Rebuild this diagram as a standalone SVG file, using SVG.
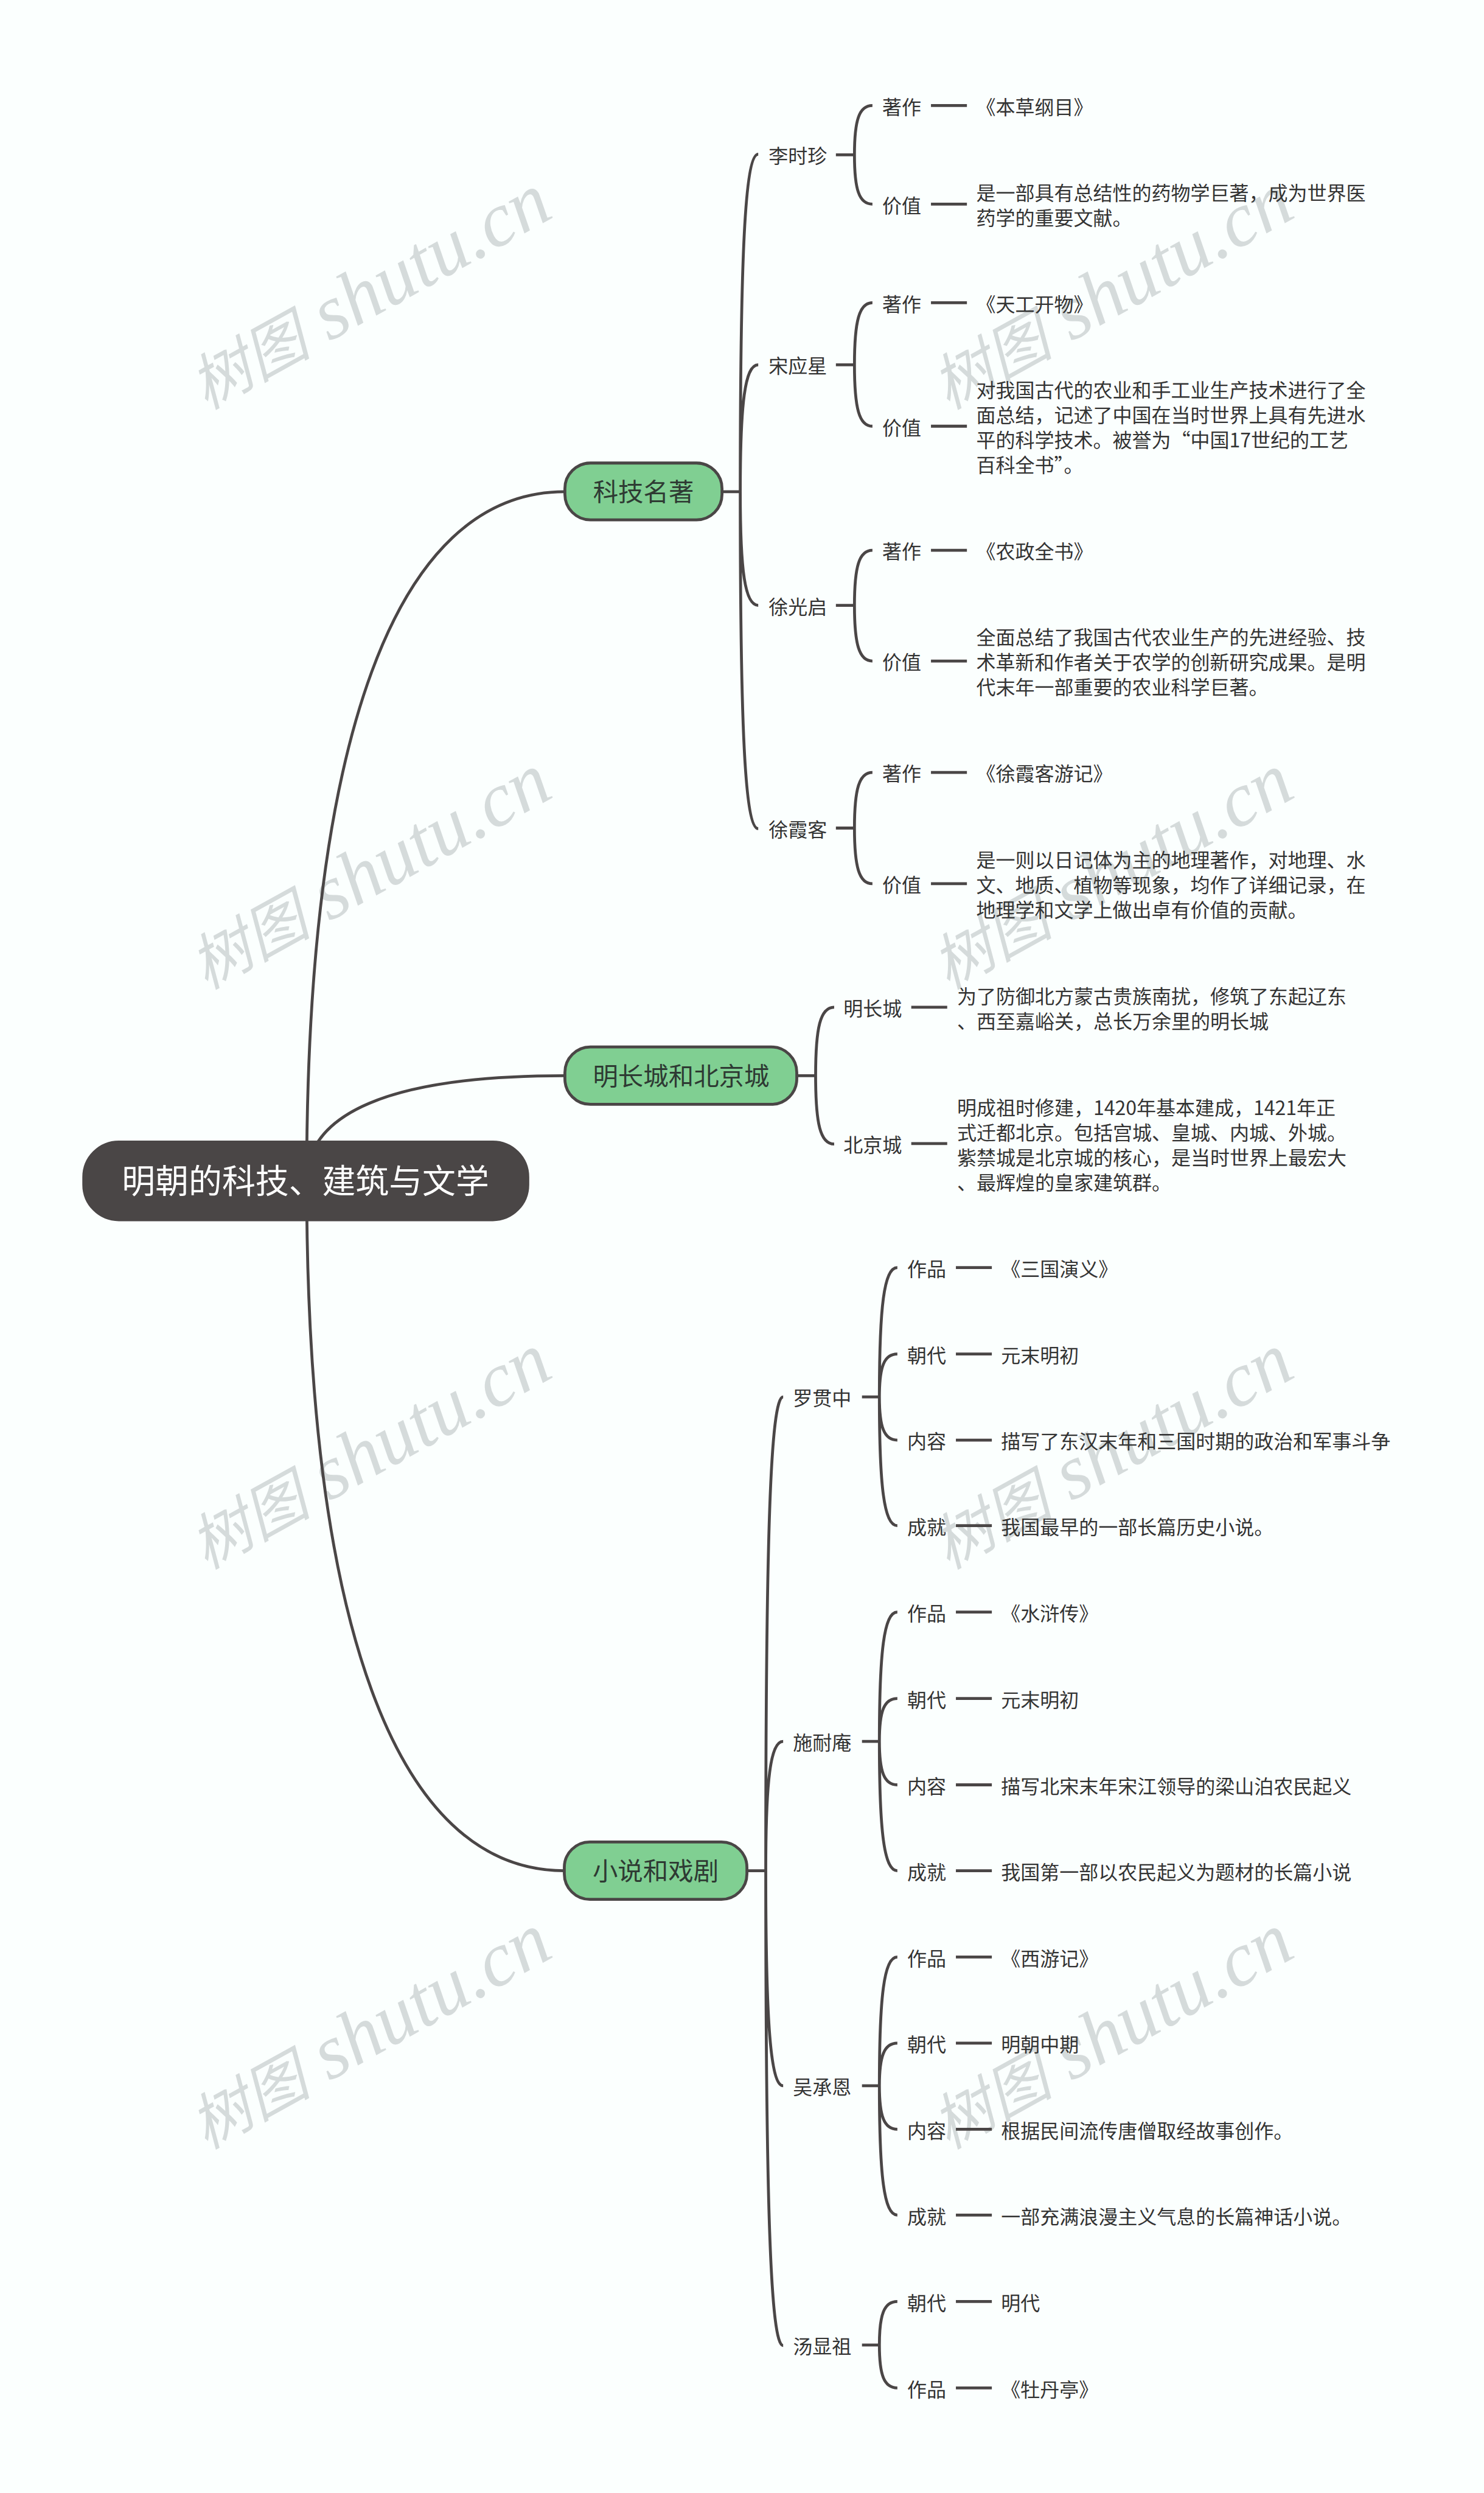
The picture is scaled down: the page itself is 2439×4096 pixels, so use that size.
<svg xmlns="http://www.w3.org/2000/svg" width="2439" height="4096" viewBox="0 0 2439 4096">
<style>
text{font-family:"Noto Sans CJK SC","Noto Sans",sans-serif;fill:#333}
.t{font-size:33.6px}
.l1{font-size:43.5px;text-anchor:middle;fill:#2e3a33}
.r{font-size:57.6px;text-anchor:middle;fill:#fff}
.w{font-family:"Liberation Serif","Noto Sans CJK SC",serif;font-style:italic;font-size:133px;fill:#d5dbdb;text-anchor:middle}
.w .z{font-size:105px}
.c{fill:none;stroke:#4a4646;stroke-width:5}
.b{fill:#80cf92;stroke:#4a4646;stroke-width:5}
</style>
<rect width="2439" height="4096" fill="#fbfffe"/>
<g transform="scale(0.95273)">
<g id="watermarks">
<text class="w" transform="translate(657 540) rotate(-29)"><tspan class="z">树图</tspan> shutu.cn</text>
<text class="w" transform="translate(1937 540) rotate(-29)"><tspan class="z">树图</tspan> shutu.cn</text>
<text class="w" transform="translate(657 1540) rotate(-29)"><tspan class="z">树图</tspan> shutu.cn</text>
<text class="w" transform="translate(1937 1540) rotate(-29)"><tspan class="z">树图</tspan> shutu.cn</text>
<text class="w" transform="translate(657 2540) rotate(-29)"><tspan class="z">树图</tspan> shutu.cn</text>
<text class="w" transform="translate(1937 2540) rotate(-29)"><tspan class="z">树图</tspan> shutu.cn</text>
<text class="w" transform="translate(657 3540) rotate(-29)"><tspan class="z">树图</tspan> shutu.cn</text>
<text class="w" transform="translate(1937 3540) rotate(-29)"><tspan class="z">树图</tspan> shutu.cn</text>
</g>
<g id="connectors">
<path class="c" d="M529 2036C529 1280 680 848 974 848"/>
<path class="c" d="M529 2036C529 1921 670 1855 974 1855"/>
<path class="c" d="M529 2036C529 2793 680 3226 973 3226"/>
<path class="c" d="M1246 848H1277M1375 1855H1407M1289 3226H1321"/>
<path class="c" d="M1277 848C1277 441 1285 266 1308 266M1277 848C1277 695 1285 629 1308 629M1277 848C1277 985 1285 1044 1308 1044M1277 848C1277 1255 1285 1429 1308 1429"/>
<path class="c" d="M1442 267H1474M1442 629H1474M1442 1044H1474M1442 1428H1474"/>
<path class="c" d="M1474 267C1474 207 1482 182 1505 182M1474 267C1474 327 1482 352 1505 352M1474 629C1474 554 1482 522 1505 522M1474 629C1474 704 1482 735 1505 735M1474 1044C1474 977 1482 949 1505 949M1474 1044C1474 1111 1482 1140 1505 1140M1474 1428C1474 1361 1482 1332 1505 1332M1474 1428C1474 1495 1482 1524 1505 1524"/>
<path class="c" d="M1606 182H1668M1606 352H1668M1606 522H1668M1606 735H1668M1606 949H1668M1606 1140H1668M1606 1332H1668M1606 1524H1668"/>
<path class="c" d="M1407 1855C1407 1772 1415 1737 1439 1737M1407 1855C1407 1938 1415 1973 1439 1973M1572 1737H1634M1572 1972H1634"/>
<path class="c" d="M1321 3226C1321 2654 1329 2409 1351 2409M1321 3226C1321 3070 1329 3003 1351 3003M1321 3226C1321 3486 1329 3597 1351 3597M1321 3226C1321 3799 1329 4045 1351 4045"/>
<path class="c" d="M1487 2409H1517M1487 3003H1517M1487 3597H1517M1487 4044H1517"/>
<path class="c" d="M1517 2409C1517 2253 1525 2186 1548 2186M1517 2409C1517 2357 1525 2335 1548 2335M1517 2409C1517 2461 1525 2483.5 1548 2483.5M1517 2409C1517 2564 1525 2631 1548 2631"/>
<path class="c" d="M1517 3003C1517 2847 1525 2780 1548 2780M1517 3003C1517 2951 1525 2929 1548 2929M1517 3003C1517 3055 1525 3078 1548 3078M1517 3003C1517 3159 1525 3226 1548 3226"/>
<path class="c" d="M1517 3597C1517 3442 1525 3375 1548 3375M1517 3597C1517 3546 1525 3523.5 1548 3523.5M1517 3597C1517 3649.5 1525 3672 1548 3672M1517 3597C1517 3753 1525 3820 1548 3820"/>
<path class="c" d="M1517 4044C1517 3991.5 1525 3969 1548 3969M1517 4044C1517 4096 1525 4118 1548 4118"/>
<path class="c" d="M1649 2186H1711M1649 2335H1711M1649 2483.5H1711M1649 2631H1711M1649 2780H1711M1649 2929H1711M1649 3078H1711M1649 3226H1711M1649 3375H1711M1649 3523.5H1711M1649 3672H1711M1649 3820H1711M1649 3969H1711M1649 4118H1711"/>
</g>
<g id="root"><rect x="143" y="1968" width="769" height="137" rx="62" ry="62" fill="#4a4646" stroke="#4a4646" stroke-width="2"/><text class="r" x="527" y="2057">明朝的科技、建筑与文学</text></g>
<g id="n-keji"><rect class="b" x="974.5" y="798.5" width="271" height="98" rx="44"/><text class="l1" x="1110" y="864">科技名著</text></g>
<g id="n-changcheng"><rect class="b" x="974.5" y="1805.5" width="400" height="99" rx="44"/><text class="l1" x="1175" y="1871">明长城和北京城</text></g>
<g id="n-xiaoshuo"><rect class="b" x="973.5" y="3176.5" width="315" height="99" rx="44"/><text class="l1" x="1131" y="3242">小说和戏剧</text></g>
<g id="li"><text class="t" x="1326" y="281">李时珍</text></g>
<g id="li-a"><text class="t" x="1522" y="197">著作</text></g>
<g id="li-a1"><text class="t" x="1684" y="197">《本草纲目》</text></g>
<g id="li-b"><text class="t" x="1522" y="367">价值</text></g>
<g id="li-b1"><text class="t" x="1684" y="345.5">是一部具有总结性的药物学巨著，成为世界医<tspan x="1684" y="388.5">药学的重要文献。</tspan></text></g>
<g id="song"><text class="t" x="1326" y="643">宋应星</text></g>
<g id="song-a"><text class="t" x="1522" y="537">著作</text></g>
<g id="song-a1"><text class="t" x="1684" y="537">《天工开物》</text></g>
<g id="song-b"><text class="t" x="1522" y="750">价值</text></g>
<g id="song-b1"><text class="t" x="1684" y="685.5">对我国古代的农业和手工业生产技术进行了全<tspan x="1684" y="728.5">面总结，记述了中国在当时世界上具有先进水</tspan><tspan x="1684" y="771.5">平的科学技术。被誉为“中国17世纪的工艺</tspan><tspan x="1684" y="814.5">百科全书”。</tspan></text></g>
<g id="xug"><text class="t" x="1326" y="1059">徐光启</text></g>
<g id="xug-a"><text class="t" x="1522" y="964">著作</text></g>
<g id="xug-a1"><text class="t" x="1684" y="964">《农政全书》</text></g>
<g id="xug-b"><text class="t" x="1522" y="1155">价值</text></g>
<g id="xug-b1"><text class="t" x="1684" y="1112">全面总结了我国古代农业生产的先进经验、技<tspan x="1684" y="1155">术革新和作者关于农学的创新研究成果。是明</tspan><tspan x="1684" y="1198">代末年一部重要的农业科学巨著。</tspan></text></g>
<g id="xux"><text class="t" x="1326" y="1443">徐霞客</text></g>
<g id="xux-a"><text class="t" x="1522" y="1347">著作</text></g>
<g id="xux-a1"><text class="t" x="1684" y="1347">《徐霞客游记》</text></g>
<g id="xux-b"><text class="t" x="1522" y="1539">价值</text></g>
<g id="xux-b1"><text class="t" x="1684" y="1496">是一则以日记体为主的地理著作，对地理、水<tspan x="1684" y="1539">文、地质、植物等现象，均作了详细记录，在</tspan><tspan x="1684" y="1582">地理学和文学上做出卓有价值的贡献。</tspan></text></g>
<g id="mcc"><text class="t" x="1455" y="1752">明长城</text></g>
<g id="mcc-1"><text class="t" x="1651" y="1730.5">为了防御北方蒙古贵族南扰，修筑了东起辽东<tspan x="1651" y="1773.5">、西至嘉峪关，总长万余里的明长城</tspan></text></g>
<g id="bjc"><text class="t" x="1455" y="1987">北京城</text></g>
<g id="bjc-1"><text class="t" x="1651" y="1922.5">明成祖时修建，1420年基本建成，1421年正<tspan x="1651" y="1965.5">式迁都北京。包括宫城、皇城、内城、外城。</tspan><tspan x="1651" y="2008.5">紫禁城是北京城的核心，是当时世界上最宏大</tspan><tspan x="1651" y="2051.5">、最辉煌的皇家建筑群。</tspan></text></g>
<g id="luo"><text class="t" x="1368" y="2424">罗贯中</text></g>
<g id="luo-a"><text class="t" x="1565" y="2201">作品</text><text class="t" x="1727" y="2201">《三国演义》</text></g>
<g id="luo-b"><text class="t" x="1565" y="2350">朝代</text><text class="t" x="1727" y="2350">元末明初</text></g>
<g id="luo-c"><text class="t" x="1565" y="2498.5">内容</text><text class="t" x="1727" y="2498.5">描写了东汉末年和三国时期的政治和军事斗争</text></g>
<g id="luo-d"><text class="t" x="1565" y="2646">成就</text><text class="t" x="1727" y="2646">我国最早的一部长篇历史小说。</text></g>
<g id="shi"><text class="t" x="1368" y="3018">施耐庵</text></g>
<g id="shi-a"><text class="t" x="1565" y="2795">作品</text><text class="t" x="1727" y="2795">《水浒传》</text></g>
<g id="shi-b"><text class="t" x="1565" y="2944">朝代</text><text class="t" x="1727" y="2944">元末明初</text></g>
<g id="shi-c"><text class="t" x="1565" y="3093">内容</text><text class="t" x="1727" y="3093">描写北宋末年宋江领导的梁山泊农民起义</text></g>
<g id="shi-d"><text class="t" x="1565" y="3241">成就</text><text class="t" x="1727" y="3241">我国第一部以农民起义为题材的长篇小说</text></g>
<g id="wu"><text class="t" x="1368" y="3612">吴承恩</text></g>
<g id="wu-a"><text class="t" x="1565" y="3390">作品</text><text class="t" x="1727" y="3390">《西游记》</text></g>
<g id="wu-b"><text class="t" x="1565" y="3538.5">朝代</text><text class="t" x="1727" y="3538.5">明朝中期</text></g>
<g id="wu-c"><text class="t" x="1565" y="3687">内容</text><text class="t" x="1727" y="3687">根据民间流传唐僧取经故事创作。</text></g>
<g id="wu-d"><text class="t" x="1565" y="3835">成就</text><text class="t" x="1727" y="3835">一部充满浪漫主义气息的长篇神话小说。</text></g>
<g id="tang"><text class="t" x="1368" y="4059">汤显祖</text></g>
<g id="tang-a"><text class="t" x="1565" y="3984">朝代</text><text class="t" x="1727" y="3984">明代</text></g>
<g id="tang-b"><text class="t" x="1565" y="4133">作品</text><text class="t" x="1727" y="4133">《牡丹亭》</text></g>
</g>
</svg>
